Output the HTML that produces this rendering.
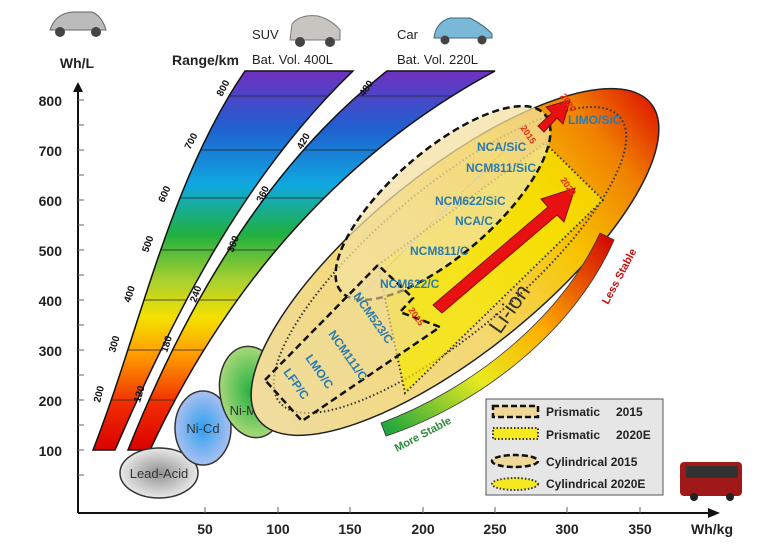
<!DOCTYPE html>
<html><head><meta charset="utf-8"><style>
html,body{margin:0;padding:0;background:#fff;}
svg{display:block;font-family:"Liberation Sans",Arial,sans-serif;}
</style></head><body>
<svg width="762" height="549" viewBox="0 0 762 549" xmlns="http://www.w3.org/2000/svg">
<defs>
<linearGradient id="rb" x1="0" y1="1" x2="0" y2="0">
<stop offset="0" stop-color="#d90000"/><stop offset="0.12" stop-color="#f02a00"/><stop offset="0.25" stop-color="#ff9900"/><stop offset="0.35" stop-color="#f5e000"/><stop offset="0.45" stop-color="#a8d030"/><stop offset="0.57" stop-color="#20b040"/><stop offset="0.7" stop-color="#10a8e0"/><stop offset="0.85" stop-color="#2060d0"/><stop offset="1" stop-color="#7030c0"/>
</linearGradient>
<linearGradient id="li" x1="0" y1="0" x2="1" y2="0">
<stop offset="0" stop-color="#efdca0"/><stop offset="0.45" stop-color="#f5d870"/><stop offset="0.7" stop-color="#f7c400"/><stop offset="0.88" stop-color="#f08000"/><stop offset="1" stop-color="#e02000"/>
</linearGradient>
<linearGradient id="st" x1="0" y1="1" x2="1" y2="0">
<stop offset="0" stop-color="#10a040"/><stop offset="0.35" stop-color="#e8ea20"/><stop offset="0.6" stop-color="#ffb000"/><stop offset="1" stop-color="#d00000"/>
</linearGradient>
<radialGradient id="la"><stop offset="0" stop-color="#909090"/><stop offset="1" stop-color="#e8e8e8"/></radialGradient>
<radialGradient id="nc"><stop offset="0" stop-color="#30a0f0"/><stop offset="1" stop-color="#a8c0f0"/></radialGradient>
<radialGradient id="nm"><stop offset="0" stop-color="#20b040"/><stop offset="1" stop-color="#a8d878"/></radialGradient>
<clipPath id="b1"><path d="M93,450 C140,330 170,180 245,71 L353,71 C250,170 180,300 115,450 Z"/></clipPath>
<clipPath id="b2"><path d="M128,450 C180,320 260,170 387,71 L495,71 C330,160 220,300 150,450 Z"/></clipPath>
</defs>

<g clip-path="url(#b1)"><rect x="80" y="71" width="300" height="380" fill="url(#rb)"/>
<g stroke="#222" stroke-width="0.8"><line x1="80" y1="96" x2="400" y2="96"/><line x1="80" y1="150" x2="400" y2="150"/><line x1="80" y1="198" x2="400" y2="198"/><line x1="80" y1="250" x2="400" y2="250"/><line x1="80" y1="300" x2="400" y2="300"/><line x1="80" y1="350" x2="400" y2="350"/><line x1="80" y1="400" x2="400" y2="400"/></g></g>
<path d="M93,450 C140,330 170,180 245,71 L353,71 C250,170 180,300 115,450 Z" fill="none" stroke="#111" stroke-width="1.5"/>
<g clip-path="url(#b2)"><rect x="120" y="71" width="380" height="380" fill="url(#rb)"/>
<g stroke="#222" stroke-width="0.8"><line x1="80" y1="96" x2="500" y2="96"/><line x1="80" y1="150" x2="500" y2="150"/><line x1="80" y1="198" x2="500" y2="198"/><line x1="80" y1="250" x2="500" y2="250"/><line x1="80" y1="300" x2="500" y2="300"/><line x1="80" y1="350" x2="500" y2="350"/><line x1="80" y1="400" x2="500" y2="400"/></g></g>
<path d="M128,450 C180,320 260,170 387,71 L495,71 C330,160 220,300 150,450 Z" fill="none" stroke="#111" stroke-width="1.5"/>
<g font-size="10" font-weight="bold" fill="#111">
<text transform="translate(222,97) rotate(-62)">800</text>
<text transform="translate(190,150) rotate(-62)">700</text>
<text transform="translate(164,203) rotate(-66)">600</text>
<text transform="translate(148,253) rotate(-70)">500</text>
<text transform="translate(130,303) rotate(-72)">400</text>
<text transform="translate(115,353) rotate(-74)">300</text>
<text transform="translate(100,403) rotate(-76)">200</text>
<text transform="translate(364,97) rotate(-55)">480</text>
<text transform="translate(302,150) rotate(-60)">420</text>
<text transform="translate(262,203) rotate(-64)">360</text>
<text transform="translate(233,253) rotate(-68)">300</text>
<text transform="translate(196,303) rotate(-70)">240</text>
<text transform="translate(167,353) rotate(-72)">180</text>
<text transform="translate(140,403) rotate(-74)">120</text>
</g>

<ellipse cx="159" cy="473" rx="39" ry="25" fill="url(#la)" stroke="#333" stroke-width="1.5"/>
<text x="159" y="478" font-size="13" text-anchor="middle" fill="#333">Lead-Acid</text>
<ellipse cx="203" cy="428" rx="28" ry="37" fill="url(#nc)" stroke="#333" stroke-width="1.5"/>
<text x="203" y="433" font-size="13" text-anchor="middle" fill="#333">Ni-Cd</text>
<ellipse cx="252" cy="392" rx="32" ry="46" fill="url(#nm)" stroke="#333" stroke-width="1.5" transform="rotate(-10 252 392)"/>
<text x="248" y="415" font-size="13" text-anchor="middle" fill="#333">Ni-MH</text>

<ellipse cx="455" cy="262" rx="252" ry="90" transform="rotate(-39 455 262)" fill="url(#li)" stroke="#222" stroke-width="1.5"/>
<ellipse cx="450" cy="260" rx="222" ry="72" transform="rotate(-40 450 260)" fill="none" stroke="#333" stroke-width="2" stroke-dasharray="1.5,2.5"/>
<path d="M378,265 L545,143 L603,200 L405,393 Z" fill="#f5e800" fill-opacity="0.7" stroke="#333" stroke-width="2" stroke-dasharray="1.5,2.5"/>
<ellipse cx="443" cy="203" rx="135" ry="52" transform="rotate(-41 443 203)" fill="#f3e0a0" fill-opacity="0.75" stroke="#111" stroke-width="2.5" stroke-dasharray="7,4"/>
<line x1="355" y1="300" x2="525" y2="130" stroke="#bbb" stroke-width="1" stroke-dasharray="1,2"/>
<path d="M265,380 L378,265 L413,298 L400,312 L440,327 L302,421 Z" fill="#f0dc98" fill-opacity="0.6" stroke="#111" stroke-width="2.5" stroke-dasharray="7,4"/>
<path d="M433,305 L548,207 L541,199 L575,188 L564,222 L557,215 L442,313 Z" fill="#e81010" stroke="#801010" stroke-width="1"/>
<path d="M538,126 L552,113 L546,107 L570,100 L563,124 L557,118 L544,132 Z" fill="#e81010" stroke="#801010" stroke-width="1"/>
<g font-size="9" font-weight="bold" fill="#e03010">
<text transform="translate(560,96) rotate(55)">2020</text>
<text transform="translate(520,128) rotate(55)">2015</text>
<text transform="translate(560,180) rotate(55)">2020</text>
<text transform="translate(408,310) rotate(55)">2015</text>
</g>
<g font-size="12" font-weight="bold" fill="#2a7ab0">
<text x="568" y="124">LIMO/SiC</text>
<text x="477" y="151">NCA/SiC</text>
<text x="466" y="172">NCM811/SiC</text>
<text x="435" y="205">NCM622/SiC</text>
<text x="455" y="225">NCA/C</text>
<text x="410" y="255">NCM811/C</text>
<text x="380" y="288">NCM622/C</text>
<text transform="translate(353,296) rotate(55)">NCM523/C</text>
<text transform="translate(328,334) rotate(55)">NCM111/C</text>
<text transform="translate(305,358) rotate(55)">LMO/C</text>
<text transform="translate(283,372) rotate(55)">LFP/C</text>
</g>
<text transform="translate(500,335) rotate(-55)" font-size="22" fill="#333">Li-ion</text>

<path d="M381,423 C470,390 560,320 600,233 L614,240 C575,330 480,405 386,436 Z" fill="url(#st)" stroke="#333" stroke-width="0.8"/>
<text transform="translate(397,452) rotate(-28)" font-size="11" font-weight="bold" fill="#2a8a3a">More Stable</text>
<text transform="translate(608,305) rotate(-62)" font-size="11" font-weight="bold" fill="#c81010">Less Stable</text>

<line x1="78" y1="513" x2="78" y2="88" stroke="#111" stroke-width="2"/>
<path d="M73,92 L78,82 L83,92 Z" fill="#111"/>
<line x1="78" y1="513" x2="712" y2="513" stroke="#111" stroke-width="2"/>
<path d="M708,508 L720,513 L708,518 Z" fill="#111"/>
<g stroke="#666" stroke-width="1">
<line x1="78" y1="100" x2="84" y2="100"/><line x1="78" y1="125" x2="84" y2="125"/><line x1="78" y1="150" x2="84" y2="150"/><line x1="78" y1="175" x2="84" y2="175"/><line x1="78" y1="200" x2="84" y2="200"/><line x1="78" y1="225" x2="84" y2="225"/><line x1="78" y1="250" x2="84" y2="250"/><line x1="78" y1="275" x2="84" y2="275"/><line x1="78" y1="300" x2="84" y2="300"/><line x1="78" y1="325" x2="84" y2="325"/><line x1="78" y1="350" x2="84" y2="350"/><line x1="78" y1="375" x2="84" y2="375"/><line x1="78" y1="400" x2="84" y2="400"/><line x1="78" y1="425" x2="84" y2="425"/><line x1="78" y1="450" x2="84" y2="450"/><line x1="78" y1="475" x2="84" y2="475"/>
<line x1="205" y1="507" x2="205" y2="513"/><line x1="278" y1="507" x2="278" y2="513"/><line x1="350" y1="507" x2="350" y2="513"/><line x1="423" y1="507" x2="423" y2="513"/><line x1="495" y1="507" x2="495" y2="513"/><line x1="567" y1="507" x2="567" y2="513"/><line x1="640" y1="507" x2="640" y2="513"/>
</g>
<g font-size="14" font-weight="bold" fill="#222">
<text x="62" y="106" text-anchor="end">800</text>
<text x="62" y="156" text-anchor="end">700</text>
<text x="62" y="206" text-anchor="end">600</text>
<text x="62" y="256" text-anchor="end">500</text>
<text x="62" y="306" text-anchor="end">400</text>
<text x="62" y="356" text-anchor="end">300</text>
<text x="62" y="406" text-anchor="end">200</text>
<text x="62" y="456" text-anchor="end">100</text>
<g text-anchor="middle"><text x="205" y="534">50</text><text x="278" y="534">100</text><text x="350" y="534">150</text><text x="423" y="534">200</text><text x="495" y="534">250</text><text x="567" y="534">300</text><text x="640" y="534">350</text></g>
<text x="712" y="534" text-anchor="middle">Wh/kg</text>
<text x="77" y="68" text-anchor="middle">Wh/L</text>
<text x="172" y="65">Range/km</text>
</g>
<g font-size="13" fill="#222">
<text x="252" y="64">Bat. Vol. 400L</text>
<text x="252" y="39">SUV</text>
<text x="397" y="64">Bat. Vol. 220L</text>
<text x="397" y="39">Car</text>
</g>
<g>
<path d="M50,30 Q55,14 72,12 L92,12 Q102,16 106,30 Z" fill="#bbb" stroke="#666"/><circle cx="60" cy="32" r="5" fill="#444"/><circle cx="96" cy="32" r="5" fill="#444"/>
<path d="M290,40 L292,24 Q300,14 318,16 Q332,20 340,30 L340,40 Z" fill="#c8c4c0" stroke="#777"/><circle cx="300" cy="42" r="5" fill="#444"/><circle cx="330" cy="42" r="5" fill="#444"/>
<path d="M434,38 Q436,22 450,18 L470,18 Q485,26 492,34 L492,38 Z" fill="#7ab8d8" stroke="#467"/><circle cx="445" cy="40" r="4.5" fill="#444"/><circle cx="482" cy="40" r="4.5" fill="#444"/>
<rect x="680" y="462" width="62" height="34" rx="4" fill="#a01818"/><rect x="686" y="466" width="52" height="12" fill="#333"/><circle cx="694" cy="497" r="4" fill="#222"/><circle cx="730" cy="497" r="4" fill="#222"/>
</g>

<rect x="486" y="399" width="177" height="96" fill="#e6e6e6" stroke="#555" stroke-width="1"/>
<rect x="493" y="406" width="45" height="11" fill="#f0d898" stroke="#111" stroke-width="2.5" stroke-dasharray="6,3"/>
<rect x="493" y="428" width="45" height="11" fill="#f5ea20" stroke="#333" stroke-width="2" stroke-dasharray="1.5,2"/>
<ellipse cx="515" cy="461" rx="23" ry="6" fill="#f0d898" stroke="#111" stroke-width="2.5" stroke-dasharray="6,3"/>
<ellipse cx="515" cy="484" rx="23" ry="6" fill="#f5ea20" stroke="#333" stroke-width="2" stroke-dasharray="1.5,2"/>
<g font-size="12" font-weight="bold" fill="#222">
<text x="546" y="416">Prismatic</text><text x="616" y="416">2015</text>
<text x="546" y="439">Prismatic</text><text x="616" y="439">2020E</text>
<text x="546" y="466">Cylindrical 2015</text>
<text x="546" y="488">Cylindrical 2020E</text>
</g>
</svg>
</body></html>
